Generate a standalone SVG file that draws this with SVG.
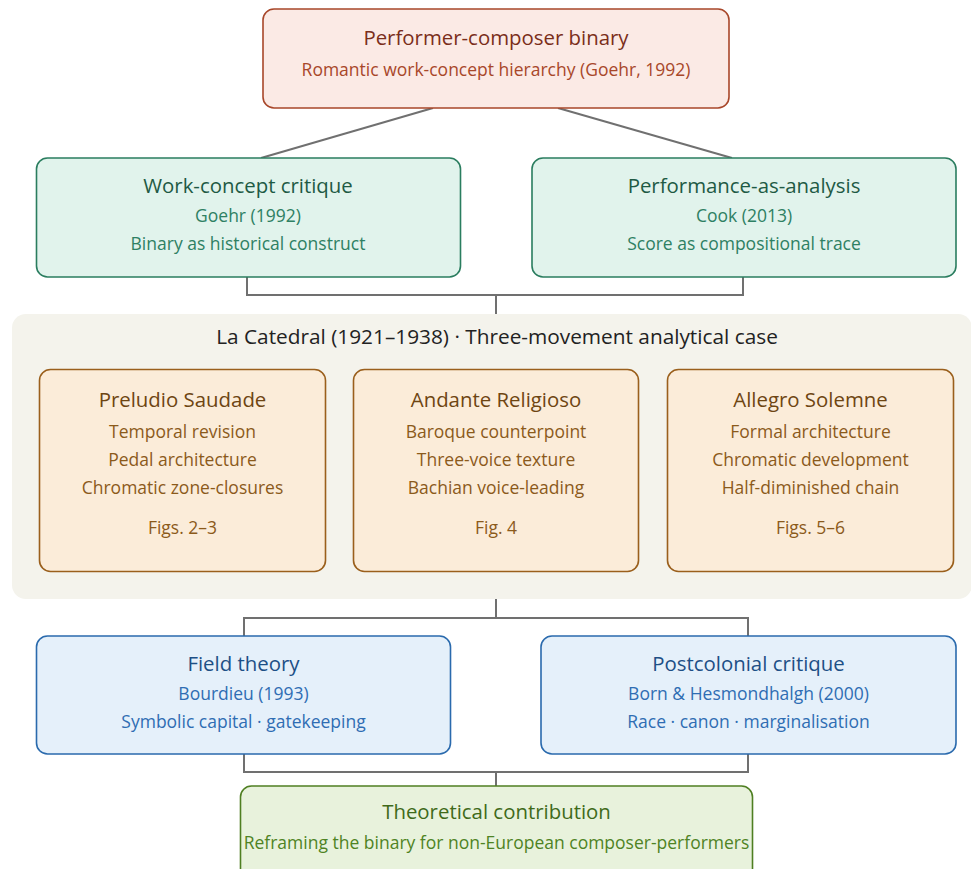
<svg xmlns="http://www.w3.org/2000/svg" width="971" height="869" viewBox="0 0 971 869">
<style>
text{font-family:"Open Sans","Noto Sans","Liberation Sans",sans-serif;text-anchor:middle}
.t{font-size:20.4px}
.s{font-size:17.5px}
.conn{fill:none;stroke:#707070;stroke-width:2}
.red rect{fill:#fbeae5;stroke:#a8472a;stroke-width:1.6}
.red .t{fill:#7a2e1a}.red .s{fill:#a8472a}
.grn rect{fill:#e1f3ec;stroke:#2a7d5f;stroke-width:1.6}
.grn .t{fill:#1e5a44}.grn .s{fill:#2e8063}
.org rect{fill:#fbecd9;stroke:#9a5f1c;stroke-width:1.6}
.org .t{fill:#6e4512}.org .s{fill:#8b5a1b}
.blu rect{fill:#e5f0fa;stroke:#2a6aad;stroke-width:1.6}
.blu .t{fill:#1d4f86}.blu .s{fill:#2f6db3}
.lim rect{fill:#e8f2dc;stroke:#4f7f22;stroke-width:1.6}
.lim .t{fill:#3f6a1a}.lim .s{fill:#4f8324}
</style>
<rect id="panel" x="12" y="314" width="960" height="285" rx="14" fill="#f4f3ec"/>
<text x="497" y="344" fill="#222" style="font-size:20.8px">La Catedral (1921–1938) · Three-movement analytical case</text>
<g id="connectors" class="conn">
<path d="M433,108 L261,158"/>
<path d="M558,108 L732,158"/>
<path d="M247,277 V295 H743 V277"/>
<path d="M496,295 V314"/>
<path d="M496,599 V618"/>
<path d="M244,636 V618 H748 V636"/>
<path d="M244,754 V772 H748 V754"/>
<path d="M496,772 V786"/>
</g>
<g id="n-binary" class="red">
<rect x="263" y="9" width="466" height="99" rx="11"/>
<text x="496" y="45" class="t">Performer-composer binary</text>
<text x="496" y="76" class="s">Romantic work-concept hierarchy (Goehr, 1992)</text>
</g>
<g id="n-work" class="grn">
<rect x="36.5" y="158" width="424" height="119" rx="11"/>
<text x="248" y="193" class="t">Work-concept critique</text>
<text x="248" y="222" class="s">Goehr (1992)</text>
<text x="248" y="250" class="s">Binary as historical construct</text>
</g>
<g id="n-perf" class="grn">
<rect x="532" y="158" width="424" height="119" rx="11"/>
<text x="744" y="193" class="t">Performance-as-analysis</text>
<text x="744" y="222" class="s">Cook (2013)</text>
<text x="744" y="250" class="s">Score as compositional trace</text>
</g>
<g id="n-preludio" class="org">
<rect x="39.5" y="369.5" width="286" height="202" rx="11"/>
<text x="182.5" y="407" class="t">Preludio Saudade</text>
<text x="182.5" y="438" class="s">Temporal revision</text>
<text x="182.5" y="466" class="s">Pedal architecture</text>
<text x="182.5" y="494" class="s">Chromatic zone-closures</text>
<text x="182.5" y="534" class="s">Figs. 2–3</text>
</g>
<g id="n-andante" class="org">
<rect x="353.5" y="369.5" width="285" height="202" rx="11"/>
<text x="496" y="407" class="t">Andante Religioso</text>
<text x="496" y="438" class="s">Baroque counterpoint</text>
<text x="496" y="466" class="s">Three-voice texture</text>
<text x="496" y="494" class="s">Bachian voice-leading</text>
<text x="496" y="534" class="s">Fig. 4</text>
</g>
<g id="n-allegro" class="org">
<rect x="667.5" y="369.5" width="286" height="202" rx="11"/>
<text x="810.5" y="407" class="t">Allegro Solemne</text>
<text x="810.5" y="438" class="s">Formal architecture</text>
<text x="810.5" y="466" class="s">Chromatic development</text>
<text x="810.5" y="494" class="s">Half-diminished chain</text>
<text x="810.5" y="534" class="s">Figs. 5–6</text>
</g>
<g id="n-field" class="blu">
<rect x="36.5" y="636" width="414" height="118" rx="11"/>
<text x="243.5" y="671" class="t">Field theory</text>
<text x="243.5" y="700" class="s">Bourdieu (1993)</text>
<text x="243.5" y="728" class="s">Symbolic capital · gatekeeping</text>
</g>
<g id="n-postcolonial" class="blu">
<rect x="541" y="636" width="415" height="118" rx="11"/>
<text x="748.5" y="671" class="t">Postcolonial critique</text>
<text x="748.5" y="700" class="s">Born &amp; Hesmondhalgh (2000)</text>
<text x="748.5" y="728" class="s">Race · canon · marginalisation</text>
</g>
<g id="n-contribution" class="lim">
<rect x="240.5" y="786" width="512" height="100" rx="11"/>
<text x="496.5" y="819" class="t">Theoretical contribution</text>
<text x="496.5" y="849" class="s">Reframing the binary for non-European composer-performers</text>
</g>
</svg>
